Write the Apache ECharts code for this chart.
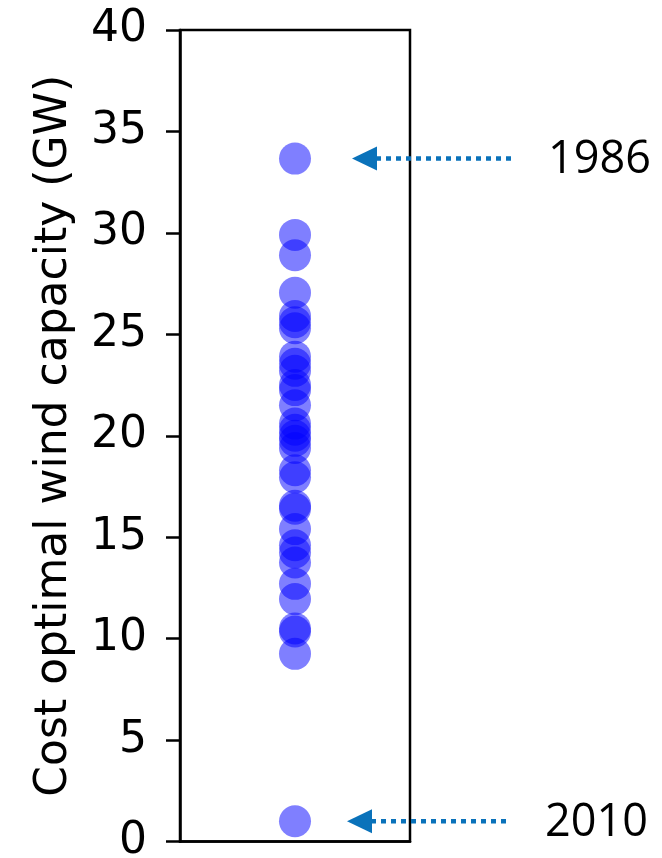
<!DOCTYPE html>
<html>
<head>
<meta charset="utf-8">
<script src="https://cdn.jsdelivr.net/npm/echarts@6/dist/echarts.min.js"></script>
<style>html,body{margin:0;padding:0;background:#fff}#c{width:662px;height:858px}</style>
</head>
<body>
<div id="c"></div>
<script>
// Cost optimal wind capacity (GW), one value per weather year
var capacities = [33.66, 29.9, 28.9, 27.05, 25.9, 25.6, 25.3, 23.9, 23.55, 23.2, 22.5, 22.25,
  21.5, 20.6, 20.3, 20.0, 19.75, 19.4, 18.3, 17.95, 16.55, 16.4, 15.4, 14.6, 14.25,
  13.75, 12.7, 11.95, 10.5, 10.35, 9.25, 1.0];
var yTicks = [0, 5, 10, 15, 20, 25, 30, 35, 40];
var annotYears = ['1986', '2010'];
var annotValues = [33.66, 1.0];

var chart = echarts.init(document.getElementById('c'), null, {renderer: 'canvas'});
var font = 'DejaVu Sans';
chart.setOption({
  animation: false,
  grid: {left: 180, right: 252, top: 30, bottom: 16.5, outerBoundsMode: 'none', containLabel: false,
    show: true, borderColor: '#000', borderWidth: 2.5, backgroundColor: 'transparent'},
  xAxis: {type: 'value', min: -1, max: 1, axisLabel: {show: false}, axisTick: {show: false}, splitLine: {show: false},
    axisLine: {show: true, onZero: false, lineStyle: {color: '#000', width: 2.5}}},
  yAxis: {type: 'value', min: 0, max: 40, interval: 5,
    name: 'Cost optimal wind capacity (GW)', nameLocation: 'middle', nameRotate: 90, nameGap: 103,
    nameTextStyle: {fontFamily: font, fontSize: 44, color: '#000'},
    axisLine: {show: true, onZero: false, lineStyle: {color: '#000', width: 2.5}},
    axisTick: {show: true, length: 14, lineStyle: {color: '#000', width: 2.5}},
    axisLabel: {margin: 33, fontFamily: font, fontSize: 44, color: '#000',
      formatter: function (v) { return yTicks.indexOf(v) >= 0 ? String(v) : ''; }},
    splitLine: {show: false}},
  series: [{
    type: 'scatter', symbolSize: 32,
    itemStyle: {color: '#0000ff', opacity: 0.5},
    data: capacities.map(function (v) { return [0, v]; })
  }]
});

var tipOffsets = [57, 52], lineEnds = [513, 508], textStarts = [548, 545];
var g = [];
annotYears.forEach(function (yr, i) {
  var p = chart.convertToPixel({gridIndex: 0}, [0, annotValues[i]]);
  var tip = p[0] + tipOffsets[i], y = p[1];
  g.push({type: 'line', shape: {x1: tip + 24, y1: y, x2: lineEnds[i], y2: y},
    style: {stroke: '#0a72ba', lineWidth: 4.5, lineDash: [5, 5]}, z: 10});
  g.push({type: 'polygon', shape: {points: [[tip, y], [tip + 25, y - 12], [tip + 25, y + 12]]},
    style: {fill: '#0a72ba'}, z: 10});
  g.push({type: 'text', x: textStarts[i], y: y + 2,
    style: {text: yr, font: '45px "Open Sans"', fill: '#000', textVerticalAlign: 'middle', textAlign: 'left'}, z: 10});
});
chart.setOption({graphic: g});
</script>
</body>
</html>
